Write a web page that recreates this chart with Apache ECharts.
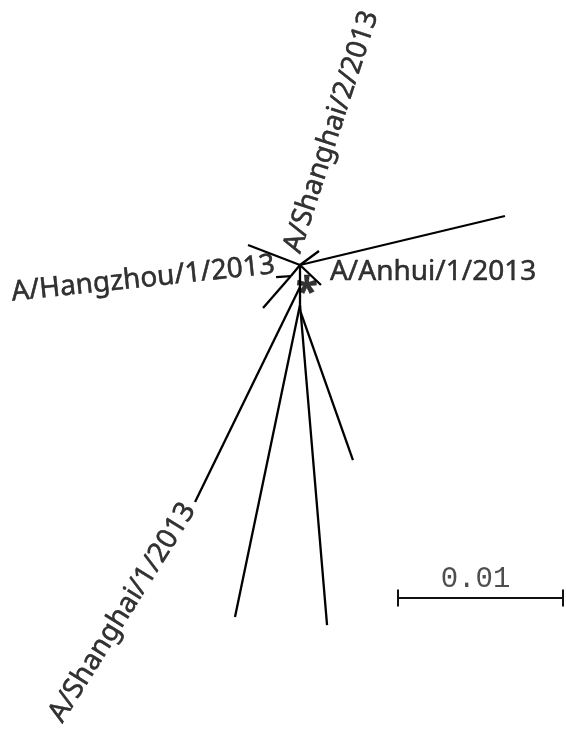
<!DOCTYPE html>
<html>
<head>
<meta charset="utf-8">
<script src="https://cdn.jsdelivr.net/npm/echarts@6/dist/echarts.min.js"></script>
<style>
html, body { margin: 0; padding: 0; background: #fff; }
#chart { width: 566px; height: 733px; }
</style>
</head>
<body>
<div id="chart"></div>
<script>
// node positions in substitutions/site, centre node at (0, 0)
var nodeNames = ['C', 'UR', 'SH2', 'UL', 'AH', 'N1', 'HZ', 'DL', 'S1', 'S2', 'SH1', 'BL', 'S3', 'BR', 'R']
var nodeX = [0, 0.01242, 0.00115, -0.00315, 0.00127, -0.00055, -0.00145, -0.00224, 0, 0, -0.00636, -0.00394, 0.00004, 0.00164, 0.00321]
var nodeY = [0, 0.00297, 0.00085, 0.00121, -0.00121, -0.00067, -0.00073, -0.00261, -0.00133, -0.00242, -0.01436, -0.02133, -0.00285, -0.02182, -0.01182]

// branches
var edgeFrom = ['C', 'C', 'C', 'C', 'C', 'N1', 'N1', 'C', 'S1', 'S1', 'S2', 'S2', 'S3', 'S3']
var edgeTo = ['UR', 'SH2', 'UL', 'AH', 'N1', 'HZ', 'DL', 'S1', 'SH1', 'S2', 'BL', 'S3', 'BR', 'R']

// tip labels
var labelNodes = ['SH1', 'HZ', 'SH2', 'AH', 'AH']
var labelTexts = ['A/Shanghai/1/2013', 'A/Hangzhou/1/2013', 'A/Shanghai/2/2013', 'A/Anhui/1/2013', '*']

// scale bar
var scaleBarLength = 0.01
var scaleBarText = '0.01'

function pos(name) {
    var i = nodeNames.indexOf(name)
    return [nodeX[i], nodeY[i]]
}

// label placement (rotate in degrees, offset in the rotated text frame)
var labelLayout = [
    { rotate: 58, align: 'right', offset: [-6, -3], size: 28, weight: 'normal' },
    { rotate: 6, align: 'right', offset: [0, -12], size: 28, weight: 'normal' },
    { rotate: 72, align: 'left', offset: [-9, -25], size: 28, weight: 'normal' },
    { rotate: 0, align: 'left', offset: [9, -13], size: 28, weight: 'normal' },
    { rotate: 0, align: 'center', offset: [-14, 9], size: 40, weight: 'bold' }
]

// 1 px = 1/16500 substitutions/site, centre node drawn at (300, 265)
var pxUnit = 1 / 16500
var barLeft = [98 * pxUnit, -333 * pxUnit]
var barTick = 8.5 * pxUnit

var chart = echarts.init(document.getElementById('chart'))

var branchLines = edgeFrom.map(function (f, i) {
    return { coords: [pos(f), pos(edgeTo[i])] }
})

var barLines = [
    { coords: [barLeft, [barLeft[0] + scaleBarLength, barLeft[1]]] },
    { coords: [[barLeft[0], barLeft[1] - barTick], [barLeft[0], barLeft[1] + barTick]] },
    { coords: [[barLeft[0] + scaleBarLength, barLeft[1] - barTick], [barLeft[0] + scaleBarLength, barLeft[1] + barTick]] }
]

var tipLabels = labelNodes.map(function (n, i) {
    var l = labelLayout[i]
    return {
        value: pos(n),
        label: {
            show: true,
            position: 'inside',
            formatter: labelTexts[i],
            color: '#000',
            fontFamily: 'Noto Sans',
            fontSize: l.size,
            fontWeight: l.weight,
            textBorderColor: '#000',
            textBorderWidth: 0.5,
            rotate: l.rotate,
            align: l.align,
            verticalAlign: 'middle',
            offset: l.offset
        }
    }
})

chart.setOption({
    backgroundColor: '#fff',
    animation: false,
    grid: { left: 0, right: 0, top: 0, bottom: 0 },
    xAxis: {
        type: 'value',
        show: false,
        min: -300 * pxUnit,
        max: 266 * pxUnit
    },
    yAxis: {
        type: 'value',
        show: false,
        min: -468 * pxUnit,
        max: 265 * pxUnit
    },
    series: [
        {
            type: 'lines',
            coordinateSystem: 'cartesian2d',
            lineStyle: { color: '#000', width: 2.3, opacity: 1 },
            data: branchLines
        },
        {
            type: 'lines',
            coordinateSystem: 'cartesian2d',
            lineStyle: { color: '#111', width: 2, opacity: 1 },
            data: barLines
        },
        {
            type: 'scatter',
            symbolSize: 0,
            data: tipLabels
        },
        {
            type: 'scatter',
            symbolSize: 0,
            label: {
                show: true,
                position: 'inside',
                formatter: scaleBarText,
                color: '#222',
                fontFamily: 'Liberation Mono',
                fontSize: 29,
                align: 'center',
                verticalAlign: 'middle',
                offset: [-5, -19]
            },
            data: [[barLeft[0] + scaleBarLength / 2, barLeft[1]]]
        }
    ]
})
</script>
</body>
</html>
